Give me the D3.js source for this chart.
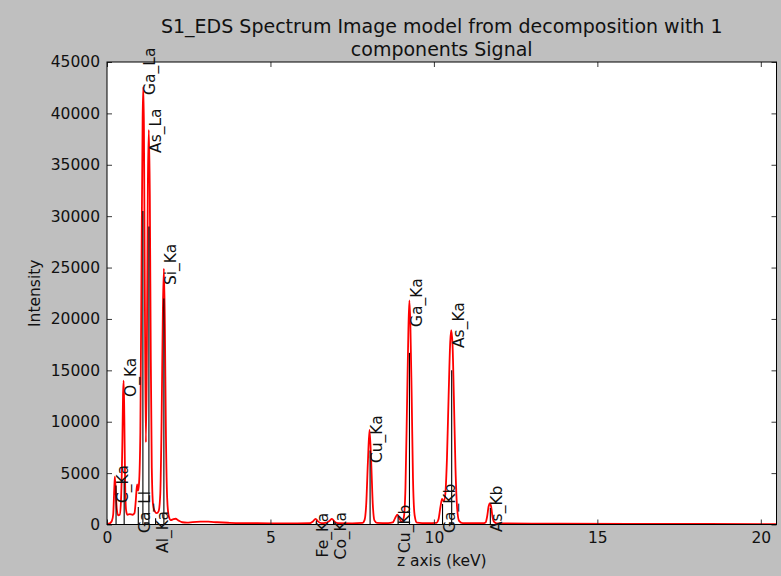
<!DOCTYPE html>
<html>
<head>
<meta charset="utf-8">
<script src="https://cdn.jsdelivr.net/npm/d3@7"></script>
<style>
  html, body { margin: 0; padding: 0; background: #bfbfbf; }
  svg text { font-family: "DejaVu Sans", sans-serif; fill: #111; }
</style>
</head>
<body>
<svg id="chart" width="781" height="576"></svg>
<script>
// EDS spectrum (energy in keV, counts)
const energy = [
  0.00, 0.05, 0.10, 0.15, 0.19, 0.22, 0.24, 0.27, 0.30, 0.34, 0.39, 0.43, 0.47, 0.49, 0.51, 0.53,
  0.55, 0.58, 0.62, 0.70, 0.78, 0.84, 0.88, 0.92, 0.95, 0.98, 1.02, 1.06, 1.09, 1.11, 1.13, 1.16,
  1.19, 1.22, 1.25, 1.28, 1.31, 1.34, 1.37, 1.41, 1.46, 1.52, 1.58, 1.63, 1.67, 1.71, 1.74, 1.77,
  1.80, 1.84, 1.89, 1.95, 2.03, 2.10, 2.18, 2.30, 2.45, 2.62, 2.86, 3.10, 3.37, 3.70, 4.08, 4.60,
  5.20, 5.80, 6.20, 6.30, 6.38, 6.46, 6.56, 6.68, 6.80, 6.88, 6.96, 7.06, 7.50, 7.82, 7.88, 7.93,
  7.98, 8.03, 8.08, 8.13, 8.18, 8.26, 8.60, 8.74, 8.81, 8.88, 8.95, 9.02, 9.08, 9.13, 9.18, 9.22,
  9.25, 9.28, 9.32, 9.36, 9.41, 9.48, 9.80, 10.08, 10.14, 10.20, 10.25, 10.30, 10.35, 10.40, 10.45, 10.50,
  10.53, 10.57, 10.61, 10.66, 10.71, 10.77, 10.88, 11.50, 11.58, 11.63, 11.67, 11.71, 11.75, 11.79, 11.84, 11.92,
  13.00, 16.00, 20.48
];
const counts = [
  0, 80, 150, 350, 1000, 3300, 4650, 3000, 1500, 900, 950, 2500, 8000, 12500, 14000, 10500,
  5000, 1500, 950, 1000, 950, 1100, 2300, 3900, 3300, 4000, 9000, 27000, 39500, 42600, 38500, 21000,
  8000, 17000, 33000, 38400, 32000, 16000, 5500, 1900, 1300, 1100, 1300, 3000, 10000, 21000, 24900, 19500,
  9500, 2600, 800, 430, 520, 560, 400, 220, 180, 240, 280, 270, 220, 170, 130, 120,
  115, 110, 120, 300, 540, 280, 130, 150, 340, 540, 280, 120, 110, 150, 450, 2000,
  6000, 9200, 6200, 2000, 400, 150, 130, 200, 600, 960, 550, 250, 700, 3600, 12000, 19000,
  21800, 19500, 12500, 4500, 900, 180, 130, 160, 500, 1700, 2480, 2250, 3000, 6500, 12500, 17800,
  18900, 17500, 12500, 5500, 1600, 350, 130, 120, 200, 800, 1700, 2060, 1750, 800, 250, 110,
  90, 60, 40
];

// X-ray line markers
const lineNames = ["C_Ka", "O_Ka", "Ga_Ll", "Ga_La", "As_La", "Al_Ka", "Si_Ka", "Fe_Ka",
                   "Co_Ka", "Cu_Ka", "Cu_Kb", "Ga_Ka", "Ga_Kb", "As_Ka", "As_Kb"];
const lineEnergy = [0.277, 0.525, 0.957, 1.098, 1.282, 1.487, 1.740, 6.404,
                    6.930, 8.048, 8.905, 9.252, 10.264, 10.544, 11.726];
const lineTop = [3800, 4300, 1700, 30500, 29000, 600, 22000, 400,
                 400, 7200, 800, 16700, 2000, 15000, 1600];
const labelBase = [2090, 12400, -830, 41790, 36150, -2770, 23300, -3200,
                   -3400, 5980, -2770, 19220, -830, 17170, -730];

const xTicks = [0, 5, 10, 15, 20];
const yTicks = [0, 5000, 10000, 15000, 20000, 25000, 30000, 35000, 40000, 45000];

const titleLines = ["S1_EDS Spectrum Image model from decomposition with 1", "components Signal"];
const xLabel = "z axis (keV)";
const yLabel = "Intensity";

// ---- layout ----
const plot = { left: 107, right: 776.5, top: 62, bottom: 524.5 };
const svg = d3.select("#chart");

const x = d3.scaleLinear().domain([0, 20.48]).range([plot.left, plot.right]);
const y = d3.scaleLinear().domain([0, 45000]).range([plot.bottom, plot.top]);

svg.append("rect")
  .attr("x", plot.left).attr("y", plot.top)
  .attr("width", plot.right - plot.left).attr("height", plot.bottom - plot.top)
  .attr("fill", "#fff");

svg.append("defs").append("clipPath").attr("id", "plotClip")
  .append("rect")
  .attr("x", plot.left).attr("y", plot.top)
  .attr("width", plot.right - plot.left).attr("height", plot.bottom - plot.top);

const inner = svg.append("g").attr("clip-path", "url(#plotClip)");

// spectrum
const pts = energy.map((e, i) => [e, counts[i]]);
inner.append("path")
  .datum(pts)
  .attr("fill", "none")
  .attr("stroke", "#ff0000")
  .attr("stroke-width", 1.8)
  .attr("stroke-linejoin", "round")
  .attr("d", d3.line().x(d => x(d[0])).y(d => y(d[1])).curve(d3.curveMonotoneX));

// vertical line markers
inner.selectAll("line.marker")
  .data(lineEnergy)
  .join("line")
  .attr("class", "marker")
  .attr("x1", d => x(d)).attr("x2", d => x(d))
  .attr("y1", y(0) + 2)
  .attr("y2", (d, i) => y(lineTop[i]))
  .attr("stroke", "#000")
  .attr("stroke-width", 1.1);

// axes with inward ticks on all four sides
const fmt = d3.format("d");
const tickStyle = g => {
  g.select(".domain").remove();
  g.selectAll(".tick line").attr("stroke", "#222").attr("stroke-width", 0.9);
  g.selectAll(".tick text").attr("font-size", 15.5).attr("fill", "#111")
    .attr("font-family", "DejaVu Sans, sans-serif");
};

svg.append("g").attr("transform", `translate(0,${plot.bottom})`)
  .call(d3.axisBottom(x).tickValues(xTicks).tickFormat(fmt).tickSizeInner(-5).tickSizeOuter(0).tickPadding(7))
  .call(tickStyle);
svg.append("g").attr("transform", `translate(0,${plot.top})`)
  .call(d3.axisTop(x).tickValues(xTicks).tickFormat("").tickSizeInner(-5).tickSizeOuter(0))
  .call(tickStyle);
svg.append("g").attr("transform", `translate(${plot.left},0)`)
  .call(d3.axisLeft(y).tickValues(yTicks).tickFormat(fmt).tickSizeInner(-5).tickSizeOuter(0).tickPadding(7))
  .call(tickStyle);
svg.append("g").attr("transform", `translate(${plot.right},0)`)
  .call(d3.axisRight(y).tickValues(yTicks).tickFormat("").tickSizeInner(-5).tickSizeOuter(0))
  .call(tickStyle);

// frame
svg.append("rect")
  .attr("x", plot.left).attr("y", plot.top)
  .attr("width", plot.right - plot.left).attr("height", plot.bottom - plot.top)
  .attr("fill", "none").attr("stroke", "#000").attr("stroke-width", 1);

// line labels (not clipped, may run past the axes)
svg.selectAll("text.xray")
  .data(lineNames)
  .join("text")
  .attr("class", "xray")
  .attr("transform", (d, i) => `translate(${x(lineEnergy[i])},${y(labelBase[i])}) rotate(-90)`)
  .attr("dy", "0.78em")
  .attr("font-size", 15.5)
  .text(d => d);

// title, two lines
svg.selectAll("text.title")
  .data(titleLines)
  .join("text")
  .attr("class", "title")
  .attr("x", (plot.left + plot.right) / 2)
  .attr("y", (d, i) => 33 + i * 22.5)
  .attr("text-anchor", "middle")
  .attr("font-size", 19)
  .text(d => d);

// axis labels
svg.append("text")
  .attr("x", (plot.left + plot.right) / 2)
  .attr("y", 566)
  .attr("text-anchor", "middle")
  .attr("font-size", 15.5)
  .text(xLabel);

svg.append("text")
  .attr("transform", `translate(39.5,${(plot.top + plot.bottom) / 2}) rotate(-90)`)
  .attr("text-anchor", "middle")
  .attr("font-size", 15.5)
  .text(yLabel);
</script>
</body>
</html>
